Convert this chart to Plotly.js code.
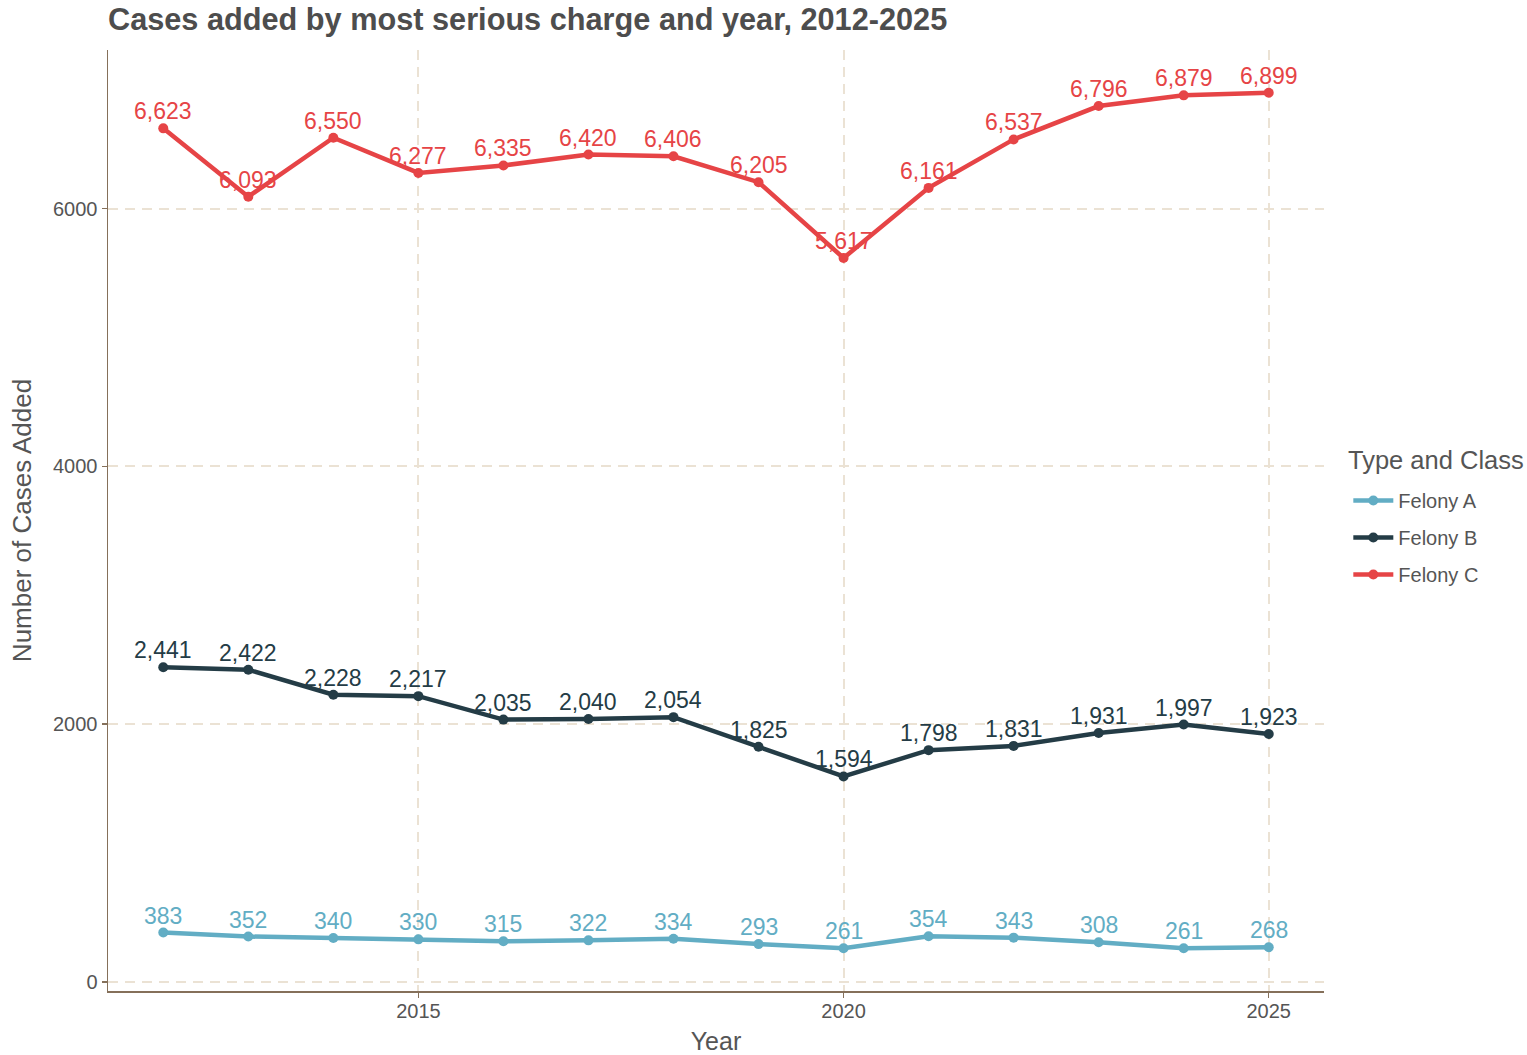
<!DOCTYPE html>
<html>
<head>
<meta charset="utf-8">
<script src="https://cdn.plot.ly/plotly-3.0.1.min.js"></script>
<style>html,body{margin:0;padding:0;background:#fff;}#chart{width:1527px;height:1055px;}</style>
</head>
<body>
<div id="chart"></div>
<script>
const years = [2012,2013,2014,2015,2016,2017,2018,2019,2020,2021,2022,2023,2024,2025];
const felonyA = [383,352,340,330,315,322,334,293,261,354,343,308,261,268];
const felonyB = [2441,2422,2228,2217,2035,2040,2054,1825,1594,1798,1831,1931,1997,1923];
const felonyC = [6623,6093,6550,6277,6335,6420,6406,6205,5617,6161,6537,6796,6879,6899];
const seriesNames = ["Felony A","Felony B","Felony C"];
const seriesColors = ["#62adc4","#243c46","#e64446"];
const xTicks = [2015,2020,2025];
const yTicks = [0,2000,4000,6000];

const allVals = [felonyA, felonyB, felonyC];
const traces = allVals.map((vals,i)=>({
  x: years, y: vals, name: seriesNames[i], type:'scatter', mode:'lines+markers',
  line:{color:seriesColors[i], width:4.5},
  marker:{color:seriesColors[i], size:10},
  legendgroup:'g'+i,
  cliponaxis:false
}));

const labelAnnotations = [];
allVals.forEach((vals,i)=>{
  vals.forEach((v,j)=>{
    labelAnnotations.push({
      x: years[j], y: v, xref:'x', yref:'y', text: v.toLocaleString('en-US'),
      showarrow:false, xanchor:'center', yanchor:'middle', yshift:17,
      font:{family:'Liberation Sans, Arial, sans-serif', size:23, color:seriesColors[i]}
    });
  });
});

const flat = [].concat(...allVals);
const ymin = Math.min(...flat), ymax = Math.max(...flat);
const ypad = (ymax-ymin)*0.05;
const xpad = (years[years.length-1]-years[0])*0.05;

const axisCommon = {
  showgrid:true, gridcolor:'#ebe2d4', griddash:'10px,7px', gridwidth:2,
  zeroline:false, showline:true, linecolor:'#85705a', linewidth:1.5,
  ticks:'outside', ticklen:5, tickcolor:'#85705a', tickwidth:1.5,
  tickfont:{size:20, color:'#555555'}
};

const layout = {
  width:1527, height:1055,
  paper_bgcolor:'#ffffff', plot_bgcolor:'#ffffff',
  margin:{l:108, r:203, t:50, b:64},
  font:{family:'Liberation Sans, Arial, sans-serif', color:'#555555'},
  title:{text:'<b>Cases added by most serious charge and year, 2012-2025</b>', x:108/1527, xanchor:'left', xref:'container', y:1-19/1055, yanchor:'middle', yref:'container',
    font:{family:'Liberation Sans, Arial, sans-serif', size:30.7, color:'#4d4d4d'}},
  xaxis:Object.assign({}, axisCommon, {
    range:[years[0]-xpad, years[years.length-1]+xpad],
    tickvals:xTicks, ticktext:xTicks.map(String),
    ticklabelstandoff:-4,
    title:{text:'Year', font:{size:25, color:'#555555'}, standoff:16}
  }),
  yaxis:Object.assign({}, axisCommon, {
    range:[ymin-ypad, ymax+ypad],
    tickvals:yTicks, ticktext:yTicks.map(String),
    title:{text:'Number of Cases Added', font:{size:26, color:'#555555'}, standoff:14}
  }),
  legend:{
    x:1.02, xanchor:'left', y:(991-481)/941, yanchor:'top',
    font:{size:20, color:'#555555'},
    tracegroupgap:8, itemwidth:40,
    bgcolor:'rgba(0,0,0,0)'
  },
  annotations:[{
    text:'Type and Class', xref:'paper', yref:'paper', x:(1346-108)/1216, y:(991-460)/941,
    xanchor:'left', yanchor:'middle', showarrow:false,
    font:{size:25.5, color:'#555555'}
  }].concat(labelAnnotations),
  showlegend:true
};
Plotly.newPlot('chart', traces, layout, {displayModeBar:false, staticPlot:true});
</script>
</body>
</html>
